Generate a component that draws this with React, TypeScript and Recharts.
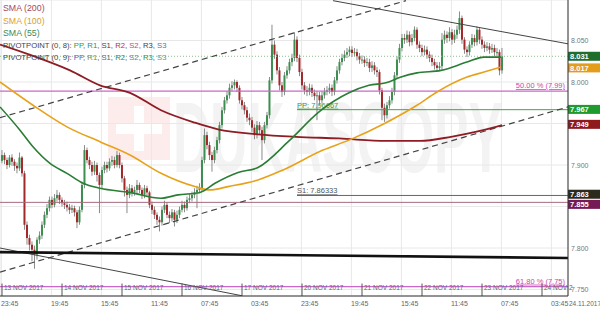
import React from 'react';
import { ComposedChart, Bar, Line, XAxis, YAxis, CartesianGrid, ReferenceLine } from 'recharts';

// ---------- DATA ----------
// hourly candles, t = trading hours since 13 Nov 2017 00:00 (weekend skipped)
const FIRST_OPEN = 7.905;
const closes = [
  7.912,7.906,7.900,7.909,7.904,7.899,7.896,7.909,7.890,7.828,
  7.812,7.804,7.798,7.792,7.810,7.815,7.828,7.840,7.848,7.858,
  7.852,7.860,7.864,7.858,7.854,7.852,7.849,7.846,7.848,7.843,
  7.831,7.846,7.876,7.918,7.906,7.900,7.892,7.900,7.888,7.876,
  7.894,7.900,7.896,7.904,7.906,7.900,7.912,7.900,7.884,7.870,
  7.864,7.872,7.867,7.870,7.876,7.870,7.864,7.872,7.867,7.852,
  7.846,7.840,7.834,7.831,7.846,7.852,7.840,7.836,7.843,7.834,
  7.840,7.846,7.852,7.848,7.858,7.860,7.864,7.867,7.870,7.872,
  7.906,7.936,7.924,7.912,7.906,7.918,7.930,7.948,7.966,7.978,
  7.984,7.993,7.996,8.000,7.993,7.978,7.972,7.966,7.957,7.954,
  7.945,7.936,7.948,7.942,7.930,7.948,7.960,8.002,8.045,8.033,
  8.014,7.996,7.988,8.008,8.014,8.024,8.029,8.051,8.029,8.012,
  7.996,7.990,7.988,7.993,7.987,7.983,7.984,7.978,7.984,7.988,
  7.990,7.993,7.988,8.002,8.014,8.024,8.029,8.033,8.036,8.039,
  8.035,8.036,8.031,8.027,8.027,8.023,8.024,8.017,8.020,8.014,
  8.012,7.990,7.969,7.960,7.972,7.978,7.988,8.008,8.027,8.041,
  8.053,8.051,8.057,8.048,8.053,8.063,8.045,8.041,8.036,8.039,
  8.033,8.029,8.024,8.020,8.017,8.019,8.051,8.057,8.053,8.060,
  8.051,8.057,8.063,8.077,8.051,8.039,8.036,8.045,8.053,8.048,
  8.063,8.051,8.045,8.041,8.043,8.039,8.041,8.036,8.036,8.014,
  8.031,
];
const highs = [
  7.918,7.915,7.909,7.912,7.913,7.907,7.903,7.915,7.911,7.893,
  7.832,7.816,7.808,7.803,7.813,7.820,7.832,7.844,7.853,7.862,
  7.862,7.865,7.870,7.867,7.861,7.858,7.856,7.853,7.852,7.851,
  7.846,7.850,7.880,7.924,7.921,7.910,7.904,7.905,7.903,7.891,
  7.898,7.904,7.904,7.908,7.911,7.910,7.917,7.915,7.903,7.887,
  7.874,7.877,7.876,7.874,7.882,7.879,7.873,7.876,7.875,7.869,
  7.856,7.850,7.843,7.838,7.850,7.857,7.855,7.844,7.847,7.846,
  7.845,7.850,7.857,7.856,7.862,7.865,7.868,7.872,7.875,7.878,
  7.910,7.944,7.940,7.928,7.916,7.922,7.934,7.952,7.970,7.982,
  7.989,7.998,8.001,8.003,8.002,7.996,7.982,7.976,7.970,7.962,
  7.958,7.949,7.953,7.952,7.946,7.952,7.964,8.006,8.069,8.050,
  8.037,8.018,8.000,8.012,8.019,8.028,8.034,8.060,8.055,8.033,
  8.016,8.000,7.995,7.998,7.997,7.991,7.989,7.988,7.989,7.993,
  7.995,7.998,7.997,8.006,8.019,8.028,8.034,8.038,8.041,8.043,
  8.043,8.041,8.040,8.035,8.032,8.031,8.029,8.028,8.025,8.024,
  8.018,8.015,7.993,7.974,7.976,7.983,7.993,8.012,8.031,8.046,
  8.058,8.058,8.062,8.061,8.058,8.067,8.066,8.049,8.045,8.044,
  8.043,8.037,8.033,8.028,8.024,8.024,8.059,8.062,8.061,8.066,
  8.064,8.063,8.068,8.085,8.080,8.054,8.043,8.049,8.058,8.057,
  8.067,8.066,8.055,8.049,8.048,8.047,8.046,8.045,8.041,8.039,
  8.041,
];
const lows = [
  7.902,7.901,7.895,7.897,7.899,7.893,7.890,7.893,7.886,7.822,
  7.804,7.797,7.784,7.775,7.786,7.805,7.811,7.824,7.836,7.844,
  7.848,7.849,7.856,7.853,7.850,7.847,7.844,7.841,7.842,7.838,
  7.824,7.828,7.843,7.872,7.902,7.895,7.887,7.888,7.880,7.842,
  7.872,7.890,7.891,7.893,7.899,7.896,7.897,7.896,7.879,7.862,
  7.842,7.860,7.862,7.863,7.866,7.866,7.859,7.860,7.862,7.848,
  7.841,7.835,7.828,7.820,7.827,7.842,7.836,7.830,7.832,7.826,
  7.830,7.836,7.843,7.843,7.845,7.854,7.856,7.860,7.848,7.866,
  7.868,7.902,7.919,7.906,7.892,7.902,7.914,7.926,7.944,7.962,
  7.974,7.980,7.989,7.991,7.988,7.974,7.967,7.961,7.952,7.948,
  7.940,7.931,7.932,7.937,7.906,7.926,7.944,7.956,7.998,8.028,
  8.009,7.990,7.982,7.984,8.004,8.010,8.019,8.025,8.024,8.007,
  7.991,7.985,7.983,7.984,7.982,7.978,7.954,7.972,7.974,7.980,
  7.984,7.986,7.983,7.984,7.998,8.010,8.020,8.025,8.029,8.031,
  8.030,8.031,8.026,8.022,8.022,8.018,8.019,8.012,8.012,8.009,
  8.006,7.985,7.954,7.952,7.956,7.968,7.974,7.984,8.004,8.023,
  8.037,8.046,8.047,8.043,8.044,8.049,8.040,8.036,8.031,8.032,
  8.028,8.024,8.019,8.015,8.012,8.013,8.015,8.046,8.047,8.049,
  8.045,8.047,8.052,8.058,8.046,8.034,8.030,8.032,8.041,8.043,
  8.044,8.046,8.040,8.036,8.037,8.034,8.035,8.031,8.031,8.008,
  8.010,
];

// moving averages: [t, value]
const sma200Pts: [number, number][] = [
  [-0.8, 8.045], [16.4, 8.027], [27.2, 8.014], [39.2, 7.996], [51.2, 7.987], [63.6, 7.966],
  [77.2, 7.951], [86.4, 7.943], [102.4, 7.937], [117.6, 7.934], [134.8, 7.932], [153.6, 7.929],
  [167.2, 7.929], [179.6, 7.934], [191.2, 7.941], [200, 7.948],
];
const sma100Pts: [number, number][] = [
  [-0.8, 8.000], [12.4, 7.972], [26, 7.946], [39.2, 7.928], [51.2, 7.912], [63.6, 7.890],
  [77.2, 7.874], [83.2, 7.870], [90.4, 7.874], [102.4, 7.882], [112.4, 7.894], [128.4, 7.918],
  [138.8, 7.930], [153.6, 7.951], [166, 7.972], [174, 7.988], [186, 8.006], [192.8, 8.012], [199.6, 8.018],
];
const sma55Pts: [number, number][] = [
  [-0.8, 7.970], [7.2, 7.942], [12.4, 7.922], [19.2, 7.902], [26, 7.890], [32.4, 7.878],
  [39.2, 7.872], [51.2, 7.867], [63.6, 7.860], [70.4, 7.864], [79.2, 7.867], [85.2, 7.878],
  [94.4, 7.891], [102.4, 7.897], [114.8, 7.929], [126.8, 7.964], [138.8, 7.987], [146.8, 7.996],
  [153.6, 7.999], [159.6, 8.006], [166, 8.011], [175.6, 8.014], [186, 8.024], [192.8, 8.030], [199.6, 8.030],
];

const priceTicks = [7.75, 7.8, 7.85, 7.9, 7.95, 8.0, 8.05];
const hiddenPriceTicks = [7.85, 7.95];
const timeTicks = [-0.25, 19.75, 39.75, 59.75, 79.75, 99.75, 119.75, 139.75, 159.75, 179.75, 199.75, 219.75];
const timeLabels = ['23:45', '19:45', '15:45', '11:45', '07:45', '03:45', '23:45', '19:45', '15:45', '11:45', '07:45', '03:45'];
const dayStarts = [0, 24, 48, 72, 96, 120, 144, 168, 192, 216];
const dayLabels = ['13 NOV 2017', '14 NOV 2017', '15 NOV 2017', '16 NOV 2017', '17 NOV 2017', '20 NOV 2017', '21 NOV 2017', '22 NOV 2017', '23 NOV 2017', '24 NOV 2'];
const lastDateLabel = '24.11.2017';

const PIVOT_PP = 7.96667;
const PIVOT_S1 = 7.86333;
const FIB50 = 7.989;
const FIB618 = 7.7535;
const LEVEL_855 = 7.855;
const LAST_PRICE = 8.031;
const pivotStartT = 118;

// trend lines [[t1, p1], [t2, p2]]
const upperChannel: [number, number][] = [[-0.8, 7.957], [161.6, 8.098]];
const lowerChannel: [number, number][] = [[-0.8, 7.771], [226.4, 7.970]];
const topResistance: [number, number][] = [[132.4, 8.098], [226.4, 8.046]];
const lowDescending: [number, number][] = [[-0.8, 7.800], [96, 7.7425]];
const blackSupport: [number, number][] = [[-0.8, 7.795], [226.4, 7.788]];

const tagValues = [8.031, 8.017, 7.967, 7.949, 7.863, 7.855];

// ---------- STYLE ----------
const X_DOMAIN: [number, number] = [-0.8, 226.4];
const Y_DOMAIN: [number, number] = [7.7422, 8.0988];
const GREEN = '#3c8f4e';
const RED = '#a3282a';
const WICK = '#8a8a8a';
const TAG_COLORS = ['#1f6e2c', '#e39c1c', '#1f9a2e', '#8e1a1e', '#2b2a1c', '#741a55'];
const TAG_SHIFT = [0, 0, 0, 0, -1.5, 2];
const FONT = '"Liberation Sans", Arial, sans-serif';

const candles = closes.map((c, i) => ({
  t: i,
  o: i === 0 ? FIRST_OPEN : closes[i - 1],
  h: highs[i],
  l: lows[i],
  c,
}));
const toSeries = (pts: [number, number][]) => pts.map(([t, v]) => ({ t, v }));
const seg = (pts: [number, number][]) => pts.map(([x, y]) => ({ x, y }));

const Candle = (props: any) => {
  const { x, y, width, height, payload } = props;
  if (!payload || x == null || y == null) return null;
  const top = Math.min(y, y + height);
  const bot = Math.max(y, y + height);
  const span = payload.h - payload.l;
  const k = span > 0 ? (bot - top) / span : 0;
  const py = (v: number) => top + (payload.h - v) * k;
  const cx = x + width / 2;
  const up = payload.c >= payload.o;
  const y1 = py(Math.max(payload.o, payload.c));
  const y2 = py(Math.min(payload.o, payload.c));
  return (
    <g>
      <line x1={cx} x2={cx} y1={top} y2={bot} stroke={WICK} strokeWidth={1} />
      <rect x={cx - 1} y={y1} width={2} height={Math.max(1, y2 - y1)} fill={up ? GREEN : RED} />
    </g>
  );
};

const TimeTick = (p: any) => {
  const idx = timeTicks.indexOf(p.payload.value);
  return (
    <text x={p.x - 0.5} y={306} fontSize={7} fill="#666" fontFamily={FONT} textAnchor="start">
      {idx >= 0 ? timeLabels[idx] : ''}
    </text>
  );
};

const PriceTick = (p: any) => {
  const v = p.payload.value;
  if (hiddenPriceTicks.some((h) => Math.abs(h - v) < 1e-6)) return null;
  return (
    <text x={571} y={p.y + 2.5} fontSize={7} fill="#777" fontFamily={FONT}>
      {Number(v).toFixed(3)}
    </text>
  );
};

const Tag = ({ viewBox, text, color, shift }: any) => {
  if (!viewBox) return null;
  const x = viewBox.x + viewBox.width;
  const y = viewBox.y + shift;
  return (
    <g>
      <rect x={x} y={y - 4.5} width={32} height={9} fill={color} />
      <text x={x + 2} y={y + 3} fontSize={7.5} fill="#fff" fontFamily={FONT} fontWeight="bold">{text}</text>
    </g>
  );
};

const RightLabel = ({ viewBox, text, color, dy }: any) => {
  if (!viewBox) return null;
  return (
    <text x={viewBox.x + viewBox.width - 3} y={viewBox.y + dy} fontSize={7.5} fill={color} fontFamily={FONT} textAnchor="end" textDecoration="underline">
      {text}
    </text>
  );
};

const LeftLabel = ({ viewBox, text, color }: any) => {
  if (!viewBox) return null;
  return (
    <text x={viewBox.x} y={viewBox.y - 2} fontSize={7.5} fill={color} fontFamily={FONT} textDecoration="underline">
      {text}
    </text>
  );
};

const DayLabel = ({ viewBox, text }: any) => {
  if (!viewBox) return null;
  return (
    <text x={viewBox.x + 2} y={290} fontSize={6.5} fill="#666" fontFamily={FONT}>
      {text}
    </text>
  );
};

const legendRows: { size: number; parts: [string, string][] }[] = [
  { size: 8.8, parts: [['SMA (200)', '#a94a57']] },
  { size: 8.8, parts: [['SMA (100)', '#dba02e']] },
  { size: 8.8, parts: [['SMA (55)', '#3f8a55']] },
  {
    size: 7.7,
    parts: [
      ['PIVOTPOINT (0, 8): ', '#444'], ['PP', '#2fa02f'], [', ', '#444'], ['R1', '#2a8a8a'], [', ', '#444'],
      ['S1', '#444'], [', ', '#444'], ['R2', '#c03030'], [', ', '#444'], ['S2', '#e04060'], [', ', '#444'],
      ['R3', '#444'], [', ', '#444'], ['S3', '#6a6ab0'],
    ],
  },
  {
    size: 7.7,
    parts: [
      ['PIVOTPOINT (0, 9): ', '#444'], ['PP', '#5a5ad0'], [', ', '#444'], ['R1', '#8a8a30'], [', ', '#444'],
      ['S1', '#666'], [', ', '#444'], ['R2', '#2a8a6a'], [', ', '#444'], ['S2', '#8a6ab0'], [', ', '#444'],
      ['R3', '#2aa02a'], [', ', '#444'], ['S3', '#888'],
    ],
  },
];

export default function App() {
  return (
    <div style={{ position: 'absolute', left: 0, top: 0, width: 600, height: 320, background: '#fff', overflow: 'hidden' }}>
      <svg width={600} height={320} style={{ position: 'absolute', left: 0, top: 0 }}>
        <rect x={108} y={97} width={62} height={63} fill="#fcecec" />
        <rect x={134} y={106} width={10} height={45} fill="#fff" />
        <rect x={116} y={124} width={46} height={10} fill="#fff" />
        <text x={173} y={172} fontSize={100} fontWeight="bold" fill="#f3f3f3" fontFamily={FONT} textLength={330} lengthAdjust="spacingAndGlyphs">
          DUKASCOPY
        </text>
      </svg>
      <div style={{ position: 'absolute', left: 0, top: 0 }}>
        <ComposedChart width={600} height={320} data={candles} margin={{ top: 0, right: 0, bottom: 0, left: 0 }}>
          <CartesianGrid stroke="#e8e8e8" strokeWidth={1} />
          <XAxis
            dataKey="t"
            type="number"
            domain={X_DOMAIN}
            allowDataOverflow
            ticks={timeTicks}
            interval={0}
            tick={<TimeTick />}
            tickLine={false}
            axisLine={{ stroke: '#333' }}
            height={24}
            label={{ content: () => <text x={569} y={306} fontSize={6.5} fill="#666" fontFamily={FONT}>{lastDateLabel}</text> }}
          />
          <YAxis
            orientation="right"
            type="number"
            domain={Y_DOMAIN}
            allowDataOverflow
            ticks={priceTicks}
            interval={0}
            tick={<PriceTick />}
            tickLine={false}
            axisLine={{ stroke: '#333' }}
            width={32}
          />

          <ReferenceLine y={LAST_PRICE} stroke="#8cbf8c" strokeDasharray="1 2" />
          <ReferenceLine y={LEVEL_855} stroke="#a86a80" strokeWidth={1} />
          <ReferenceLine y={FIB50} stroke="#cc66cc" strokeWidth={1.3} label={<RightLabel text="50.00 % (7.99)" color="#cc44aa" dy={-3} />} />
          <ReferenceLine y={FIB618} stroke="#cc66cc" strokeWidth={1.3} label={<RightLabel text="61.80 % (7.75)" color="#cc44aa" dy={-3} />} />
          <ReferenceLine
            segment={[{ x: pivotStartT, y: PIVOT_PP }, { x: X_DOMAIN[1], y: PIVOT_PP }]}
            stroke="#4aa04a"
            strokeWidth={1}
            label={<LeftLabel text="PP: 7.96667" color="#3a9a3a" />}
          />
          <ReferenceLine
            segment={[{ x: pivotStartT, y: PIVOT_S1 }, { x: X_DOMAIN[1], y: PIVOT_S1 }]}
            stroke="#666"
            strokeWidth={1}
            label={<LeftLabel text="S1: 7.86333" color="#555" />}
          />

          <ReferenceLine segment={seg(upperChannel)} stroke="#444" strokeWidth={1.2} strokeDasharray="6 4" ifOverflow="hidden" />
          <ReferenceLine segment={seg(lowerChannel)} stroke="#444" strokeWidth={1.2} strokeDasharray="6 4" ifOverflow="hidden" />
          <ReferenceLine segment={seg(topResistance)} stroke="#444" strokeWidth={1} ifOverflow="hidden" />
          <ReferenceLine segment={seg(lowDescending)} stroke="#444" strokeWidth={1} ifOverflow="hidden" />
          <ReferenceLine segment={seg(blackSupport)} stroke="#111" strokeWidth={2.6} ifOverflow="hidden" />

          {dayStarts.map((d, i) => (
            <ReferenceLine
              key={'d' + i}
              segment={[{ x: d, y: Y_DOMAIN[0] }, { x: d, y: Y_DOMAIN[0] + 0.015 }]}
              stroke="#555"
              strokeWidth={1}
              label={<DayLabel text={dayLabels[i]} />}
            />
          ))}

          <Bar dataKey={(d: any) => [d.l, d.h]} barSize={2} shape={<Candle />} isAnimationActive={false} />

          <Line data={toSeries(sma200Pts)} dataKey="v" type="monotone" stroke="#8e1c24" strokeWidth={1.8} dot={false} isAnimationActive={false} />
          <Line data={toSeries(sma100Pts)} dataKey="v" type="monotone" stroke="#e8a21a" strokeWidth={1.6} dot={false} isAnimationActive={false} />
          <Line data={toSeries(sma55Pts)} dataKey="v" type="monotone" stroke="#2a7d34" strokeWidth={1.6} dot={false} isAnimationActive={false} />

          {tagValues.map((v, i) => (
            <ReferenceLine key={'tag' + i} y={v} stroke="none" ifOverflow="visible" label={<Tag text={v.toFixed(3)} color={TAG_COLORS[i]} shift={TAG_SHIFT[i]} />} />
          ))}
        </ComposedChart>
      </div>
      <div style={{ position: 'absolute', left: 3, top: 2, fontFamily: FONT, whiteSpace: 'nowrap' }}>
        {legendRows.map((row, i) => (
          <div key={i} style={{ height: 12.5, lineHeight: '12.5px', fontSize: row.size }}>
            {row.parts.map(([t, c], j) => (
              <span key={j} style={{ color: c }}>{t}</span>
            ))}
          </div>
        ))}
      </div>
    </div>
  );
}
